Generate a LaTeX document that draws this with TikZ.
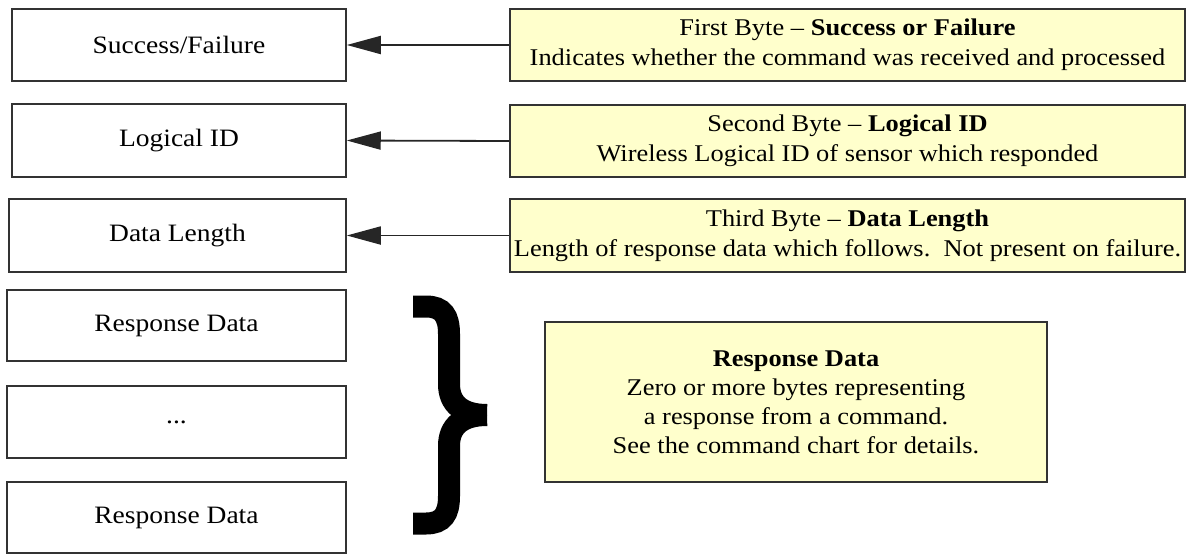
\documentclass[tikz,border=0pt]{standalone}
\usepackage{fontspec}
\setmainfont{Liberation Serif}[FakeStretch=1.1,UprightFont=Liberation Serif,BoldFont=Liberation Serif Bold]
\usetikzlibrary{arrows.meta}
\definecolor{notepad}{HTML}{FFFFCC}

\begin{document}
\begin{tikzpicture}[x=1pt,y=-1pt,
		field/.style={draw=black!80,line width=1.5pt,minimum height=72pt,inner sep=0pt,font=\fontsize{25}{30}\selectfont},
		note/.style={field,fill=notepad,align=center,font=\fontsize{24}{30}\selectfont},
		pointer/.style={draw=black!85,line width=1.8pt,-{Triangle[length=34pt,width=18pt]}},
		brace/.style={line width=22pt}]
			%%%%% START %%%%%
			
			\useasboundingbox (0,0) rectangle (1188,554);
			
			\node[field,minimum width=334pt] (sf) at (179,45) {Success/Failure};
			\node[field,minimum width=334pt,minimum height=73pt] (lid) at (179,140.5) {Logical ID};
			\node[field,minimum width=337pt,minimum height=73pt] (dl) at (177.5,235.5) {Data Length};
			
			\node[field,minimum width=339pt,minimum height=71pt] (rda) at (176.5,325.5) {Response Data};
			\node[field,minimum width=339pt] (gap) at (176.5,422) {...};
			\node[field,minimum width=339pt,minimum height=71pt] (rdb) at (176.5,517.5) {Response Data};
			
			\node[note,minimum width=675pt] (fb) at (847.5,45) {First Byte -- \textbf{Success or Failure}\\Indicates whether the command was received and processed};
			\node[note,minimum width=675pt] (sb) at (847.5,141) {Second Byte -- \textbf{Logical ID}\\Wireless Logical ID of sensor which responded};
			\node[note,minimum width=675pt,minimum height=73pt] (tb) at (847.5,235.5) {Third Byte -- \textbf{Data Length}\\Length of response data which follows.\ \ Not present on failure.};
			
			\draw[pointer] (fb.west) -- (sf.east);
			\draw[pointer] (sb.west) -- (lid.east);
			\draw[pointer] (tb.west) -- (dl.east);
			
			\draw[brace] (413,306.5) -- (426,306.5) .. controls (443,306.5) and (449,316) .. (449,334) -- (449,384) .. controls (449,404) and (462,415) .. (487,415);
			\draw[brace] (413,523.5) -- (426,523.5) .. controls (443,523.5) and (449,514) .. (449,496) -- (449,446) .. controls (449,426) and (462,415) .. (487,415);
			
			\node[note,minimum width=502pt,minimum height=160pt,font=\fontsize{24}{29}\selectfont] (rdd) at (796,402) {\textbf{Response Data}\\Zero or more bytes representing\\a response from a command.\\See the command chart for details.};
			
			%%%%% END %%%%%
		\end{tikzpicture}
\end{document}
